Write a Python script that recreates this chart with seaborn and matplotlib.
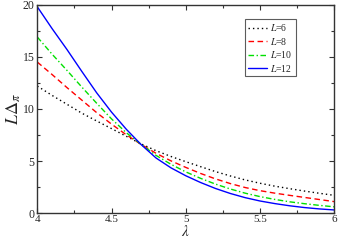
import matplotlib
matplotlib.use("Agg")
import matplotlib.pyplot as plt
import seaborn as sns
import pandas as pd
from matplotlib.ticker import MultipleLocator

# values
lam = [4.0, 4.1, 4.2, 4.3, 4.4, 4.5, 4.6, 4.7, 4.8, 4.9, 5.0,
       5.1, 5.2, 5.3, 5.4, 5.5, 5.6, 5.7, 5.8, 5.9, 6.0]
gap_L6 = [12.2, 11.3, 10.45, 9.6, 8.85, 8.12, 7.38, 6.65, 6.0, 5.45, 4.95,
          4.47, 4.0, 3.58, 3.2, 2.88, 2.6, 2.36, 2.13, 1.92, 1.72]
gap_L8 = [14.5, 13.3, 12.05, 10.85, 9.65, 8.55, 7.52, 6.6, 5.75, 5.03, 4.4,
          3.82, 3.3, 2.85, 2.47, 2.17, 1.93, 1.72, 1.52, 1.32, 1.12]
gap_L10 = [16.9, 15.25, 13.7, 12.1, 10.55, 9.05, 7.72, 6.6, 5.55, 4.7, 3.97,
           3.35, 2.8, 2.33, 1.93, 1.6, 1.33, 1.1, 0.92, 0.76, 0.62]
gap_L12 = [19.8, 17.7, 15.7, 13.6, 11.55, 9.7, 8.05, 6.58, 5.3, 4.36, 3.6,
           2.95, 2.38, 1.9, 1.5, 1.18, 0.93, 0.72, 0.55, 0.42, 0.32]

sizes = ["6", "8", "10", "12"]
series = [gap_L6, gap_L8, gap_L10, gap_L12]
colors = ["black", "#ff0000", "#00e000", "#0000ff"]
styles = [(0, (1, 2.2)), (0, (4, 2.5)), (0, (4, 1.8, 1, 1.8)), "-"]

sns.set_style("ticks")
plt.rcParams["font.family"] = ["Liberation Serif", "DejaVu Serif"]
plt.rcParams["mathtext.fontset"] = "stix"

fig = plt.figure(figsize=(3.39, 2.42), dpi=100)
ax = fig.add_axes([0.110, 0.1186, 0.876, 0.862])

for size, vals, c, ls in zip(sizes, series, colors, styles):
    df = pd.DataFrame({"lam": lam, "gap": vals})
    sns.lineplot(data=df, x="lam", y="gap", ax=ax, color=c, linestyle=ls,
                 linewidth=1.0, label=f"$L$={size}")

ax.set_xlim(4, 6)
ax.set_ylim(0, 20)
ax.xaxis.set_major_locator(MultipleLocator(0.5))
ax.xaxis.set_minor_locator(MultipleLocator(0.25))
ax.yaxis.set_major_locator(MultipleLocator(5))
ax.yaxis.set_minor_locator(MultipleLocator(2.5))
ax.set_xticks([4, 4.5, 5, 5.5, 6])
ax.set_xticklabels(["4", "4.5", "5", "5.5", "6"])
ax.tick_params(which="both", direction="in", top=True, right=True,
               labelsize=8.5, color="#333333", pad=2)
ax.tick_params(axis="x", labelsize=8, pad=1)
ax.tick_params(which="major", length=3.6, width=0.8)
ax.tick_params(which="minor", length=2, width=0.8)
for sp in ax.spines.values():
    sp.set_color("#333333")
    sp.set_linewidth(1.0)

ax.set_xlabel(r"$\lambda$", fontsize=11, labelpad=0.3)
ax.set_ylabel(r"$L\Delta_{\pi}$", fontsize=13, labelpad=0)

leg = ax.legend(loc="upper left", bbox_to_anchor=(0.70, 0.93), fontsize=7,
                frameon=True, fancybox=False, edgecolor="#333333",
                handlelength=1.9, handletextpad=0.4, borderpad=0.3,
                labelspacing=0.25, borderaxespad=0)
leg.get_frame().set_linewidth(0.8)

fig.savefig("out.png", dpi=100)
